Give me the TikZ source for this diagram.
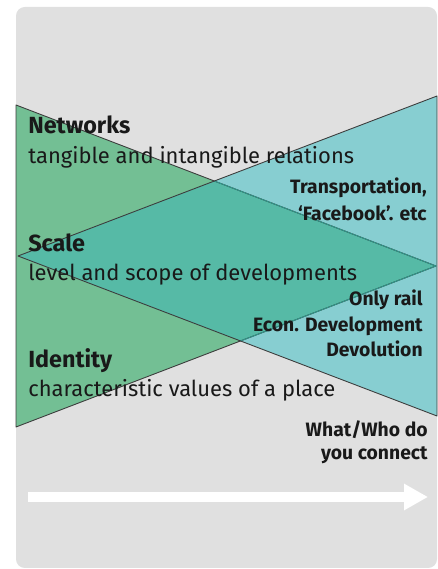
\documentclass[tikz,border=0pt]{standalone}
\usepackage{fontspec}
\setmainfont{Fira Sans}
\usetikzlibrary{arrows.meta}

\definecolor{panel}{RGB}{224,224,224}
\definecolor{leafgreen}{RGB}{115,191,148}
\definecolor{skyteal}{RGB}{135,206,209}
\definecolor{mixteal}{RGB}{86,186,166}
\definecolor{rim}{RGB}{60,60,60}
\definecolor{rimteal}{RGB}{48,150,138}
\definecolor{ink}{RGB}{25,25,25}

\begin{document}
\begin{tikzpicture}[font=\fontsize{12.5}{14}\selectfont, >=Triangle, text=ink]
    \tikzstyle{head}=[anchor=base west, inner sep=0pt, font=\fontsize{13.3}{15}\selectfont\bfseries]
    \tikzstyle{desc}=[anchor=base west, inner sep=0pt]
    \tikzstyle{side}=[anchor=base east, inner sep=0pt, font=\fontsize{11}{13}\selectfont\bfseries]
    \tikzstyle{edge}=[draw=rim, line width=0.5pt, line join=round]
    \useasboundingbox (0,0) rectangle (8.76,11.38);
    \fill[panel, rounded corners=5pt] (0.32,0.02) rectangle (8.74,11.24);

    % the two wedges: green opens to the left, teal to the right
    \coordinate (gtop) at (0.32,9.28); \coordinate (gbot) at (0.32,2.84); \coordinate (gtip) at (8.72,6.06);
    \coordinate (btop) at (8.74,9.46); \coordinate (bbot) at (8.74,3.06); \coordinate (btip) at (0.36,6.26);
    \fill[leafgreen] (gtop) -- (gbot) -- (gtip) -- cycle;
    \fill[skyteal] (btop) -- (bbot) -- (btip) -- cycle;
    \begin{scope}
      \clip (gtop) -- (gbot) -- (gtip) -- cycle;
      \fill[mixteal] (btop) -- (bbot) -- (btip) -- cycle;
    \end{scope}
    \draw[edge] (gtop) -- (gbot) -- (gtip) -- cycle;
    \begin{scope}
      \clip (btop) -- (bbot) -- (btip) -- cycle;
      \draw[edge, draw=rimteal] (gtop) -- (gbot) -- (gtip) -- cycle;
    \end{scope}
    \draw[edge] (btop) -- (bbot) -- (btip) -- cycle;

    % left hand labels
    \node[head] (netw) at (0.56,8.70) {Networks};
    \node[desc] (netwd) at (0.56,8.10) {tangible and intangible relations};
    \node[head] (scale) at (0.56,6.34) {Scale};
    \node[desc] (scaled) at (0.56,5.76) {level and scope of developments};
    \node[head] (ident) at (0.56,4.02) {Identity};
    \node[desc] (identd) at (0.56,3.44) {characteristic values of a place};

    % right hand examples
    \node[side] (trans) at (8.54,7.50) {Transportation,};
    \node[side] (fbook) at (8.54,6.96) {‘Facebook’. etc};
    \node[side] (rail) at (8.46,5.26) {Only rail};
    \node[side] (econ) at (8.46,4.74) {Econ. Development};
    \node[side] (devol) at (8.46,4.24) {Devolution};
    \node[side] (what) at (8.56,2.64) {What/Who do};
    \node[side] (conn) at (8.56,2.18) {you connect};

    % white axis arrow
    \coordinate (axisL) at (0.56,1.44);
    \coordinate (axisR) at (8.56,1.44);
    \draw[white, line width=5.2pt, -{Triangle[length=0.48cm, width=0.5cm]}] (axisL) -- (axisR);
  \end{tikzpicture}
\end{document}
